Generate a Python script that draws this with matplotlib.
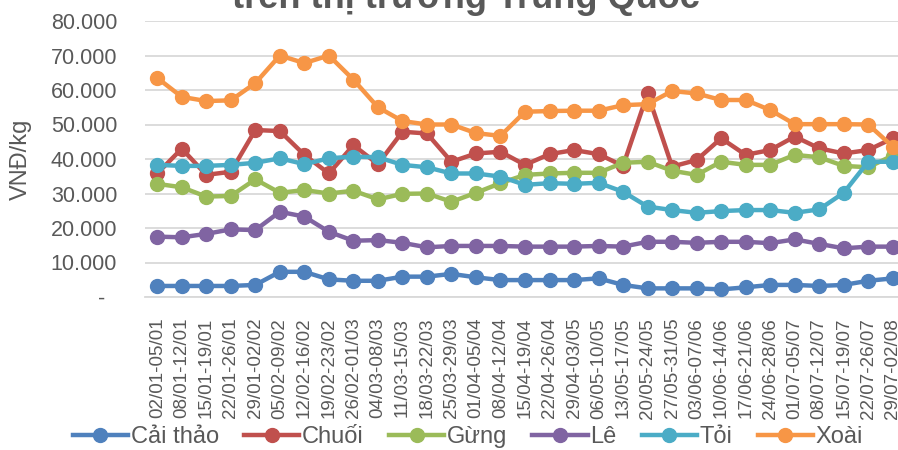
import matplotlib
matplotlib.use("Agg")
import matplotlib.pyplot as plt
import numpy as np

weeks = ["02/01-05/01", "08/01-12/01", "15/01-19/01", "22/01-26/01", "29/01-02/02",
         "05/02-09/02", "12/02-16/02", "19/02-23/02", "26/02-01/03", "04/03-08/03",
         "11/03-15/03", "18/03-22/03", "25/03-29/03", "01/04-05/04", "08/04-12/04",
         "15/04-19/04", "22/04-26/04", "29/04-03/05", "06/05-10/05", "13/05-17/05",
         "20/05-24/05", "27/05-31/05", "03/06-07/06", "10/06-14/06", "17/06-21/06",
         "24/06-28/06", "01/07-05/07", "08/07-12/07", "15/07-19/07", "22/07-26/07",
         "29/07-02/08"]

cai_thao = [3200, 3200, 3200, 3200, 3500, 7300, 7300, 5100, 4700, 4700,
            5900, 5900, 6700, 5700, 4900, 4900, 4900, 4900, 5400, 3500,
            2500, 2500, 2500, 2200, 2800, 3500, 3500, 3200, 3500, 4700, 5400]
chuoi = [35800, 43000, 35400, 36300, 48400, 48100, 41200, 35800, 44000, 38500,
         47900, 47400, 39200, 41600, 42100, 38300, 41400, 42600, 41400, 38000,
         59000, 37800, 39700, 46000, 41200, 42600, 46500, 43100, 41600, 42600, 46000]
gung = [32800, 31800, 29100, 29300, 34100, 30200, 31000, 30000, 30800, 28300,
        29900, 30000, 27600, 30200, 33000, 35400, 35800, 36000, 36000, 38900,
        39200, 36600, 35400, 39200, 38300, 38300, 41200, 40500, 38000, 37600, 41000]
le = [17500, 17300, 18300, 19600, 19400, 24700, 23300, 18900, 16300, 16500,
      15700, 14400, 14800, 14800, 14800, 14600, 14600, 14600, 14800, 14600,
      16000, 16000, 15700, 16000, 16000, 15600, 16700, 15400, 14100, 14600, 14600]
toi = [38300, 38000, 38000, 38300, 38900, 40200, 38500, 40200, 40700, 40500,
       38300, 37600, 35800, 35800, 34900, 32500, 33000, 32800, 33100, 30500,
       26200, 25200, 24400, 24900, 25200, 25200, 24400, 25400, 30200, 39200, 39200]
xoai = [63500, 58000, 56800, 57000, 62000, 70000, 67800, 70000, 63000, 55000,
        51000, 50000, 50000, 47500, 46700, 53700, 53900, 54000, 54000, 55600,
        55900, 59700, 59000, 57100, 57100, 54200, 50100, 50100, 50100, 50000, 43600]

series_names = ["Cải thảo", "Chuối", "Gừng", "Lê", "Tỏi", "Xoài"]
series_values = [cai_thao, chuoi, gung, le, toi, xoai]
colors = ["#4F81BD", "#C0504D", "#9BBB59", "#8064A2", "#4BACC6", "#F79646"]

y_ticks = [0, 10000, 20000, 30000, 40000, 50000, 60000, 70000, 80000]
y_tick_labels = ["-  ", "10.000", "20.000", "30.000", "40.000", "50.000",
                 "60.000", "70.000", "80.000"]

plt.rcParams['font.family'] = ['Liberation Sans', 'DejaVu Sans']
grey = "#595959"

fig = plt.figure(figsize=(8.98, 4.5), dpi=100)
ax = fig.add_axes([145 / 898, 1 - 297 / 450, (905 - 145) / 898, (297 - 21) / 450])

x = np.arange(len(weeks))
for name, vals, c in zip(series_names, series_values, colors):
    ax.plot(x, vals, color=c, lw=3.2, marker='o', markersize=10,
            markeredgecolor=c, markerfacecolor=c, label=name, clip_on=False, zorder=3)

ax.set_xlim(-0.5, len(weeks) - 0.5)
ax.set_ylim(0, 80000)
ax.set_yticks(y_ticks)
ax.set_yticklabels(y_tick_labels)
ax.set_xticks(x)
ax.set_xticklabels(weeks, rotation=90)
ax.tick_params(axis='y', length=0, pad=20, labelsize=15.5, labelcolor=grey)
ax.tick_params(axis='x', length=0, pad=15, labelsize=13.5, labelcolor=grey)
ax.grid(axis='y', color='#D9D9D9', lw=1.3, zorder=0)
ax.set_axisbelow(True)
for s in ['top', 'right', 'left']:
    ax.spines[s].set_visible(False)
ax.spines['bottom'].set_color('#D9D9D9')
ax.spines['bottom'].set_linewidth(1.3)

fig.text(21 / 898, 1 - 159 / 450, "VNĐ/kg", rotation=90, ha='center', va='center',
         fontsize=17, color=grey)

fig.text(466 / 898, 1 - 8 / 450, "trên thị trường Trung Quốc", ha='center',
         va='baseline', fontsize=26, fontweight='bold', color=grey)

handles, labels = ax.get_legend_handles_labels()
leg = fig.legend(handles, labels, loc='center', bbox_to_anchor=(468 / 898, 1 - 437 / 450),
                 ncol=6, frameon=False, fontsize=17, handlelength=2.35,
                 handletextpad=0.12, columnspacing=1.05, borderaxespad=0)
for t in leg.get_texts():
    t.set_color(grey)

fig.savefig("out.png", dpi=100)
